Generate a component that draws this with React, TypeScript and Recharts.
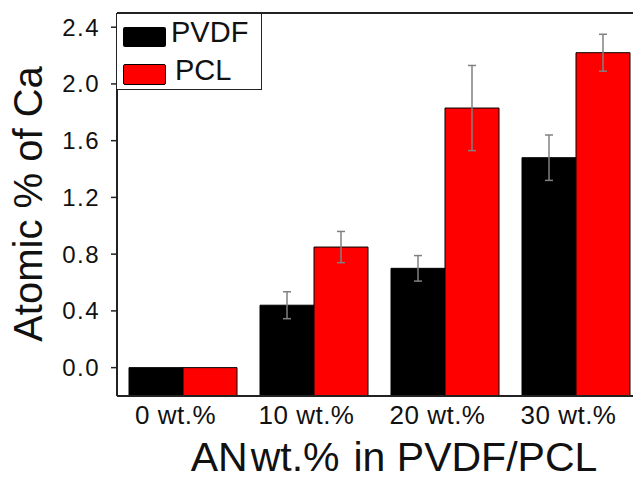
import React from "react";
import { BarChart, Bar, XAxis, YAxis, ErrorBar, ReferenceLine } from "recharts";

const categories = ["0 wt.%", "10 wt.%", "20 wt.%", "30 wt.%"];
const pvdf = [0, 0.44, 0.7, 1.48];
const pcl = [0, 0.85, 1.83, 2.22];
const pvdfErr = [0, 0.095, 0.09, 0.16];
const pclErr = [0, 0.11, 0.3, 0.13];
const yTicks = [0, 0.4, 0.8, 1.2, 1.6, 2.0, 2.4];
const yDomain = [-0.2, 2.5];

// bars are drawn up from the bottom of the axis, as in the original plot
const data = categories.map((c, i) => ({
  name: c,
  pvdf: [yDomain[0], pvdf[i]],
  pcl: [yDomain[0], pcl[i]],
  pvdfErr: pvdfErr[i],
  pclErr: pclErr[i],
}));

const FONT = "'Liberation Sans', Arial, sans-serif";
const AXIS = "#222";

function YTitle() {
  return (
    <text
      transform="translate(42, 204) rotate(-90)"
      textAnchor="middle"
      fontFamily={FONT}
      fontSize={40}
      fill="#111"
    >
      Atomic % of Ca
    </text>
  );
}

function XTitle() {
  return (
    <text x={394} y={471} textAnchor="middle" fontFamily={FONT} fontSize={41} fill="#111">
      <tspan>AN</tspan>
      <tspan dx={3}>wt.%</tspan>
      <tspan dx={14}>in PVDF/PCL</tspan>
    </text>
  );
}

export default function App() {
  return (
    <div style={{ position: "absolute", left: 0, top: 0, width: 633, height: 480, overflow: "hidden", background: "#fff" }}>
      <BarChart
        width={660}
        height={480}
        data={data}
        margin={{ top: 13, right: 19, left: 0, bottom: 0 }}
        barCategoryGap={12}
        barGap={0}
      >
        <XAxis
          dataKey="name"
          height={84}
          tickLine={false}
          tickSize={6}
          tickMargin={4}
          axisLine={{ stroke: AXIS, strokeWidth: 2 }}
          tick={{ fontSize: 26, fill: "#111", fontFamily: FONT, dx: -7, letterSpacing: 0.5 }}
          label={<XTitle />}
        />
        <YAxis
          type="number"
          domain={yDomain}
          ticks={yTicks}
          width={117}
          tickSize={6}
          tickMargin={11}
          tickFormatter={(v: number) => v.toFixed(1)}
          tickLine={{ stroke: AXIS, strokeWidth: 1.5 }}
          axisLine={{ stroke: AXIS, strokeWidth: 2 }}
          tick={{ fontSize: 24, fill: "#111", fontFamily: FONT, letterSpacing: 1.5 }}
          label={<YTitle />}
        />
        <ReferenceLine y={2.5} stroke={AXIS} strokeWidth={2} />

        {/* PVDF */}
        <Bar dataKey="pvdf" fill="#000000" stroke="#000000" strokeWidth={1} isAnimationActive={false}>
          <ErrorBar dataKey="pvdfErr" stroke="#808080" strokeWidth={1.5} width={4} isAnimationActive={false} />
        </Bar>

        {/* PCL */}
        <Bar dataKey="pcl" fill="#ff0000" stroke="#000000" strokeWidth={1} isAnimationActive={false}>
          <ErrorBar dataKey="pclErr" stroke="#808080" strokeWidth={1.5} width={4} isAnimationActive={false} />
        </Bar>
      </BarChart>

      {/* legend */}
      <div
        style={{
          position: "absolute",
          left: 116,
          top: 13,
          width: 146,
          height: 77,
          border: `1.5px solid ${AXIS}`,
          boxSizing: "border-box",
          background: "#fff",
        }}
      />
      <div style={{ position: "absolute", left: 123, top: 27, width: 43, height: 20, background: "#000", borderRadius: 2 }} />
      <div
        style={{
          position: "absolute",
          left: 123,
          top: 64,
          width: 43,
          height: 21,
          background: "#ff0000",
          border: "1px solid #000",
          boxSizing: "border-box",
          borderRadius: 2,
        }}
      />
      <div style={{ position: "absolute", left: 171, top: 18, fontFamily: FONT, fontSize: 29, lineHeight: "29px", color: "#111" }}>
        PVDF
      </div>
      <div style={{ position: "absolute", left: 175, top: 56, fontFamily: FONT, fontSize: 29, lineHeight: "29px", color: "#111" }}>
        PCL
      </div>
    </div>
  );
}
